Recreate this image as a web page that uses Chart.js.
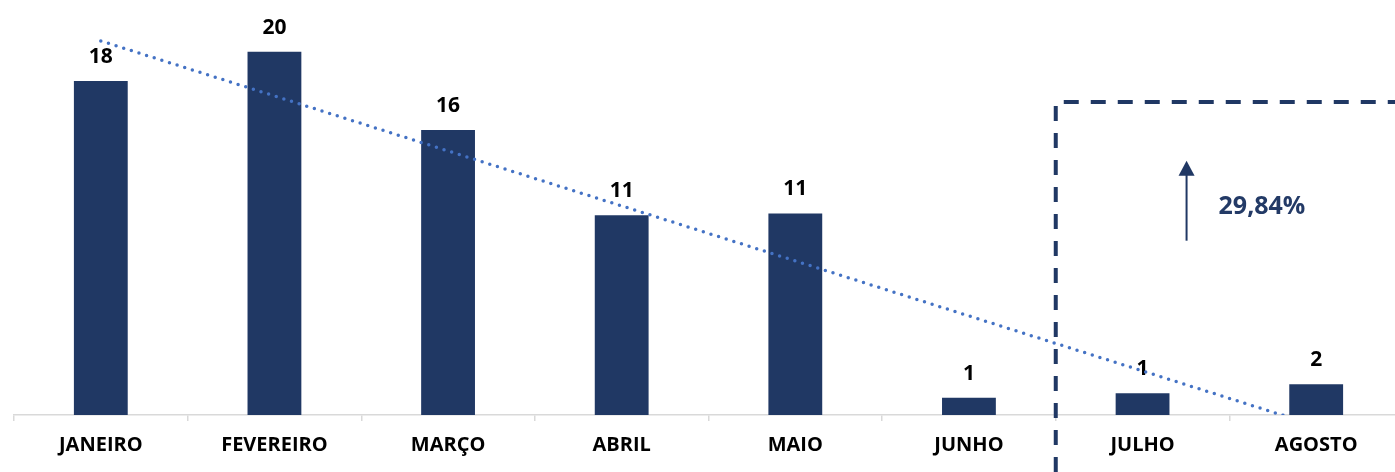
<!DOCTYPE html>
<html>
<head>
<meta charset="utf-8">
<script src="https://cdn.jsdelivr.net/npm/chart.js@4"></script>
<style>
  html, body { margin: 0; padding: 0; background: #fff; overflow: hidden; }
  #wrap { width: 1403px; height: 472px; }
</style>
</head>
<body>
<div id="wrap"><canvas id="chart"></canvas></div>
<script>
const months = ["JANEIRO", "FEVEREIRO", "MARÇO", "ABRIL", "MAIO", "JUNHO", "JULHO", "AGOSTO"];
const values = [18.4, 20, 15.7, 11, 11.1, 0.95, 1.2, 1.7];
const valueLabels = ["18", "20", "16", "11", "11", "1", "1", "2"];
// trendline end points
const trend = [20.6, null, null, null, null, null, null, -0.6];
const growthLabel = "29,84%";

const navy = "#203864";
const fontFamily = "'Open Sans'";

const labelsPlugin = {
  id: "barLabels",
  afterDatasetDraw(chart, args) {
    if (args.index !== 0) return;
    const ctx = chart.ctx;
    const meta = chart.getDatasetMeta(0);
    ctx.save();
    ctx.fillStyle = "#000";
    ctx.font = "bold 21px " + fontFamily;
    ctx.textAlign = "center";
    ctx.textBaseline = "alphabetic";
    meta.data.forEach((bar, i) => {
      ctx.fillText(valueLabels[i], bar.x, bar.y - 18);
    });
    ctx.restore();
  }
};

const boxPlugin = {
  id: "growthBox",
  afterDraw(chart) {
    const ctx = chart.ctx;
    const x = chart.scales.x, y = chart.scales.y;
    const sepX = (x.getPixelForValue(5) + x.getPixelForValue(6)) / 2;
    const topY = 102;
    ctx.save();
    ctx.strokeStyle = navy;
    ctx.lineWidth = 4;
    ctx.setLineDash([15, 12]);
    ctx.beginPath();
    ctx.moveTo(sepX, chart.height);
    ctx.lineTo(sepX, topY);
    ctx.lineTo(chart.width, topY);
    ctx.stroke();
    ctx.setLineDash([]);

    // arrow
    const ax = x.getPixelForValue(6) + 44;
    const y0 = y.getPixelForValue(9.6), y1 = y.getPixelForValue(14.0);
    ctx.lineWidth = 2;
    ctx.beginPath();
    ctx.moveTo(ax, y0);
    ctx.lineTo(ax, y1 + 14);
    ctx.stroke();
    ctx.fillStyle = navy;
    ctx.beginPath();
    ctx.moveTo(ax, y1);
    ctx.lineTo(ax - 8, y1 + 15);
    ctx.lineTo(ax + 8, y1 + 15);
    ctx.closePath();
    ctx.fill();

    ctx.font = "bold 25px " + fontFamily;
    ctx.fillStyle = "#233a66";
    ctx.textAlign = "left";
    ctx.textBaseline = "middle";
    ctx.fillText(growthLabel, ax + 32, y.getPixelForValue(11.45));
    ctx.restore();
  }
};

new Chart(document.getElementById("chart"), {
  type: "bar",
  data: {
    labels: months,
    datasets: [
      {
        type: "bar",
        data: values,
        backgroundColor: navy,
        barPercentage: 0.62,
        categoryPercentage: 0.5,
        order: 2
      },
      {
        type: "line",
        data: trend,
        spanGaps: true,
        borderColor: "#4472C4",
        borderWidth: 3.5,
        borderDash: [0, 8],
        borderCapStyle: "round",
        pointRadius: 0,
        fill: false,
        clip: { left: false, top: false, right: false, bottom: 0 },
        order: 1
      }
    ]
  },
  options: {
    responsive: true,
    maintainAspectRatio: false,
    animation: false,
    layout: { padding: { left: 14, right: 0, top: 1, bottom: 3 } },
    plugins: { legend: { display: false }, tooltip: { enabled: false } },
    scales: {
      x: {
        grid: { display: true, drawOnChartArea: false, offset: true, tickLength: 6, color: "#d9d9d9", lineWidth: 1.5 },
        border: { color: "#d9d9d9", width: 1.5 },
        ticks: { color: "#000", font: { family: fontFamily, size: 20, weight: "bold" }, padding: 12, maxRotation: 0 }
      },
      y: {
        display: false,
        min: 0,
        max: 22.8
      }
    }
  },
  plugins: [labelsPlugin, boxPlugin]
});
</script>
</body>
</html>
